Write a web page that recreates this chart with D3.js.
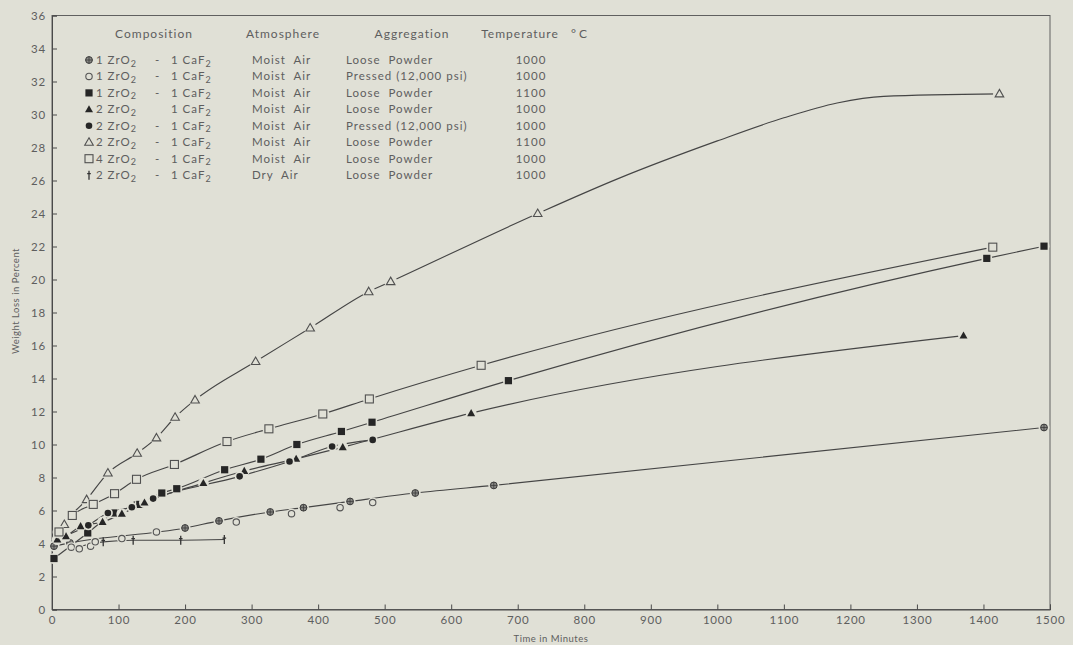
<!DOCTYPE html>
<html><head><meta charset="utf-8">
<script src="https://cdn.jsdelivr.net/npm/d3@7"></script>
<style>
html,body{margin:0;padding:0;background:#e0e0d6;}
svg{display:block;}
text{font-family:"Lato","Noto Sans",sans-serif;fill:#5e5e5e;}
</style></head>
<body>
<svg id="c" width="1073" height="645"></svg>
<script>
// ---- data (minutes, weight loss %) ----
const xTicks = [0,100,200,300,400,500,600,700,800,900,1000,1100,1200,1300,1400,1500];
const yTicks = [0,2,4,6,8,10,12,14,16,18,20,22,24,26,28,30,32,34,36];

const s1Pts = [[3,3.84],[27,4.04],[200,4.94],[251,5.37],[328,5.91],[378,6.17],[448,6.55],[546,7.06],[664,7.52],[1491,11.03]]; // 1ZrO2-1CaF2 moist loose 1000 (crossed circle)
const s2Pts = [[29,3.78],[41,3.68],[58,3.84],[65,4.1],[105,4.3],[157,4.7],[277,5.3],[360,5.81],[433,6.17],[482,6.48]]; // 1ZrO2 pressed 1000 (open circle)
const s3Pts = [[3,3.09],[53.7,4.64],[93,5.85],[128,6.33],[132,6.37],[165,7.06],[187.5,7.32],[259.5,8.47],[314,9.11],[368,10.0],[435,10.79],[481,11.35],[686,13.87],[1405,21.28],[1491,22.02]]; // 1ZrO2 loose 1100 (filled square)
const s4Pts = [[8,4.24],[21,4.44],[43,5.05],[76,5.3],[105,5.8],[139,6.48],[227.5,7.66],[289,8.39],[367,9.13],[437,9.84],[630,11.9],[1370,16.6]]; // 2ZrO2 loose 1000 (filled triangle)
const s5Pts = [[54.6,5.1],[84,5.85],[120,6.2],[152,6.72],[282,8.07],[357,8.97],[421,9.88],[482,10.28]]; // 2ZrO2 pressed 1000 (filled circle)
const s6Pts = [[18.5,5.15],[52,6.66],[84,8.27],[128,9.47],[157,10.4],[185,11.65],[215,12.7],[306,15.03],[388,17.06],[476,19.26],[509,19.87],[730,24.0],[1424,31.25]]; // 2ZrO2 loose 1100 (open triangle)
const s7Pts = [[10.5,4.7],[30.5,5.7],[62,6.37],[94,7.02],[127,7.89],[184,8.79],[263,10.18],[326,10.95],[407,11.85],[477,12.76],[645,14.8],[1414,21.96]]; // 4ZrO2 loose 1000 (open square)
const s8Pts = [[77,4.1],[122,4.2],[193.5,4.2],[259,4.24]]; // 2ZrO2 dry air (dagger)

// drawn (hand-faired) curve nodes
const s1Line = [[3,3.84],[27,4.04],[200,4.94],[251,5.37],[328,5.91],[378,6.17],[448,6.55],[546,7.06],[664,7.52],[1491,11.03]];
const s3Line = [[3,3.09],[53.7,4.64],[93,5.85],[130,6.35],[165,7.06],[187.5,7.32],[259.5,8.47],[314,9.11],[368,10.0],[435,10.79],[481,11.35],[686,13.87],[1405,21.28],[1491,22.02]];
const s4Line = [[3,3.9],[8,4.24],[21,4.44],[43,5.05],[76,5.3],[105,5.8],[139,6.48],[227.5,7.66],[289,8.39],[367,9.13],[437,9.84],[630,11.9],[1370,16.6]];
const s5Line = [[10,4.3],[54.6,5.1],[84,5.85],[120,6.2],[152,6.72],[282,8.07],[357,8.97],[421,9.88],[482,10.28]];
const s6Line = [[3,3.9],[18.5,5.15],[52,6.66],[84,8.27],[128,9.47],[157,10.4],[185,11.65],[215,12.7],[306,15.03],[388,17.06],[476,19.26],[509,19.87],[730,24.0],[850,26.1],[1000,28.4],[1100,29.8],[1180,30.7],[1250,31.1],[1424,31.25]];
const s7Line = [[3,3.9],[10.5,4.7],[30.5,5.7],[62,6.37],[94,7.02],[127,7.89],[184,8.79],[263,10.18],[326,10.95],[407,11.85],[477,12.76],[645,14.8],[1414,21.96]];
const s8Line = [[45,3.85],[77,4.1],[122,4.2],[193.5,4.2],[259,4.24]];

const legendComp = ["1 ZrO|2| - 1 CaF|2|","1 ZrO|2| - 1 CaF|2|","1 ZrO|2| - 1 CaF|2|","2 ZrO|2|   1 CaF|2|","2 ZrO|2| - 1 CaF|2|","2 ZrO|2| - 1 CaF|2|","4 ZrO|2| - 1 CaF|2|","2 ZrO|2| - 1 CaF|2|"];
const legendAtm = ["Moist  Air","Moist  Air","Moist  Air","Moist  Air","Moist  Air","Moist  Air","Moist  Air","Dry  Air"];
const legendAgg = ["Loose  Powder","Pressed (12,000 psi)","Loose  Powder","Loose  Powder","Pressed (12,000 psi)","Loose  Powder","Loose  Powder","Loose  Powder"];
const legendTemp = ["1000","1000","1100","1000","1000","1100","1000","1000"];
const markerKinds = ["crossCircle","dotCircle","fSquare","fTri","fCircle","oTri","oSquare","dagger"];

// ---- drawing ----
const BG = "#e0e0d6", INK = "#454545";
const svg = d3.select("#c");
svg.append("rect").attr("width",1073).attr("height",645).attr("fill",BG);
const x = d3.scaleLinear().domain([0,1500]).range([52,1050]);
const y = d3.scaleLinear().domain([0,36]).range([609.5,15.5]);

// frame
svg.append("rect").attr("x",x(0)).attr("y",y(36)).attr("width",x(1500)-x(0)).attr("height",y(0)-y(36))
  .attr("fill","none").attr("stroke","#606060").attr("stroke-width",1);

const ax = svg.append("g").attr("transform",`translate(0,${y(0)})`)
  .call(d3.axisBottom(x).tickValues(xTicks).tickSize(-5).tickPadding(6).tickFormat(d3.format("d")));
const ay = svg.append("g").attr("transform",`translate(${x(0)},0)`)
  .call(d3.axisLeft(y).tickValues(yTicks).tickSize(-5).tickPadding(6).tickFormat(d3.format("d")));
[ax,ay].forEach(g=>{
  g.select(".domain").attr("stroke","#4a4a4a");
  g.selectAll(".tick line").attr("stroke","#4a4a4a");
  g.selectAll(".tick text").style("font-size","11.5px").style("fill","#5e5e5e").style("letter-spacing","0.8px");
});

svg.append("text").attr("transform","translate(19,301) rotate(-90)").attr("text-anchor","middle")
  .style("font-size","9.5px").style("letter-spacing","0.5px").text("Weight  Loss  in  Percent");
svg.append("text").attr("x",551).attr("y",642).attr("text-anchor","middle")
  .style("font-size","9.5px").style("letter-spacing","0.5px").text("Time  in  Minutes");

// lines
const line = d3.line().x(d=>x(d[0])).y(d=>y(d[1])).curve(d3.curveMonotoneX);
[s1Line,s3Line,s4Line,s5Line,s6Line,s7Line,s8Line].forEach(L=>{
  svg.append("path").attr("d",line(L)).attr("fill","none").attr("stroke",INK).attr("stroke-width",1.15);
});

function drawMarker(g, kind, cx, cy, halo){
  const gg = g.append("g").attr("transform",`translate(${cx},${cy})`);
  if(halo){
    const r = {crossCircle:5.5,dotCircle:5,fSquare:5.5,fTri:5.5,fCircle:5,oTri:6.5,oSquare:6.5,dagger:0}[kind];
    if(r>0) gg.append("circle").attr("r",r).attr("fill",BG);
  }
  switch(kind){
    case "crossCircle":
      gg.append("circle").attr("r",3.4).attr("fill","#8a8a86").attr("stroke","#3a3a3a").attr("stroke-width",1);
      gg.append("path").attr("d","M-3.4,0H3.4M0,-3.4V3.4").attr("stroke","#3a3a3a").attr("stroke-width",0.8);
      break;
    case "dotCircle":
      gg.append("circle").attr("r",3.2).attr("fill",BG).attr("stroke","#555").attr("stroke-width",1.1);
      break;
    case "fSquare":
      gg.append("rect").attr("x",-3.6).attr("y",-3.6).attr("width",7.2).attr("height",7.2).attr("fill","#262626");
      break;
    case "fTri":
      gg.append("path").attr("d","M0,-4.2L4,3L-4,3Z").attr("fill","#262626");
      break;
    case "fCircle":
      gg.append("circle").attr("r",3.3).attr("fill","#262626");
      break;
    case "oTri":
      gg.append("path").attr("d","M0,-4.5L4.3,3L-4.3,3Z").attr("fill",BG).attr("stroke","#505050").attr("stroke-width",1.1);
      break;
    case "oSquare":
      gg.append("rect").attr("x",-4).attr("y",-4).attr("width",8).attr("height",8).attr("fill",BG).attr("stroke","#505050").attr("stroke-width",1.1);
      break;
    case "dagger":
      gg.append("path").attr("d","M0,-4.5V4.5M-1.8,-1.5H1.8").attr("stroke","#333").attr("stroke-width",1.3);
      break;
  }
}

const series = [s1Pts,s2Pts,s3Pts,s4Pts,s5Pts,s6Pts,s7Pts,s8Pts];
const mg = svg.append("g");
series.forEach((pts,i)=>{
  pts.forEach(p=>drawMarker(mg, markerKinds[i], x(p[0]), y(p[1]), true));
});

// legend
const lg = svg.append("g").style("letter-spacing","1px");
const hdrY = 38;
[["Composition",154],["Atmosphere",283],["Aggregation",412],["Temperature",520]].forEach(h=>{
  lg.append("text").attr("x",h[1]).attr("y",hdrY).attr("text-anchor","middle").style("font-size","12px").text(h[0]);
});
lg.append("text").attr("x",571).attr("y",hdrY).style("font-size","12px").style("letter-spacing","3px").text("°C");

const FS = "11.5px";
function richText(g, str, xx, yy){
  const t = g.append("text").attr("x",xx).attr("y",yy).style("font-size",FS).attr("xml:space","preserve");
  str.split("|").forEach((part,k)=>{
    const ts = t.append("tspan").text(part);
    if(k%2===1) ts.attr("dy",2.5).style("font-size","9px");
    else if(k>0) ts.attr("dy",-2.5);
  });
  return t;
}
const rowY0 = 60, rowDy = 16.45;
legendComp.forEach((c,i)=>{
  const yy = rowY0 + i*rowDy;
  drawMarker(lg, markerKinds[i], 89, yy, false);
  const parts = c.split(" - ");
  const lhs = parts.length>1 ? parts[0] : c.split("   ")[0];
  const rhs = parts.length>1 ? parts[1] : c.split("   ")[1];
  richText(lg, lhs, 96, yy+4);
  if(parts.length>1) lg.append("text").attr("x",155).attr("y",yy+4).style("font-size",FS).text("-");
  richText(lg, rhs, 171, yy+4);
  lg.append("text").attr("x",252).attr("y",yy+4).style("font-size",FS).attr("xml:space","preserve").text(legendAtm[i]);
  lg.append("text").attr("x",346).attr("y",yy+4).style("font-size",FS).attr("xml:space","preserve").text(legendAgg[i]);
  lg.append("text").attr("x",531).attr("y",yy+4).attr("text-anchor","middle").style("font-size",FS).text(legendTemp[i]);
});
</script>
</body></html>
